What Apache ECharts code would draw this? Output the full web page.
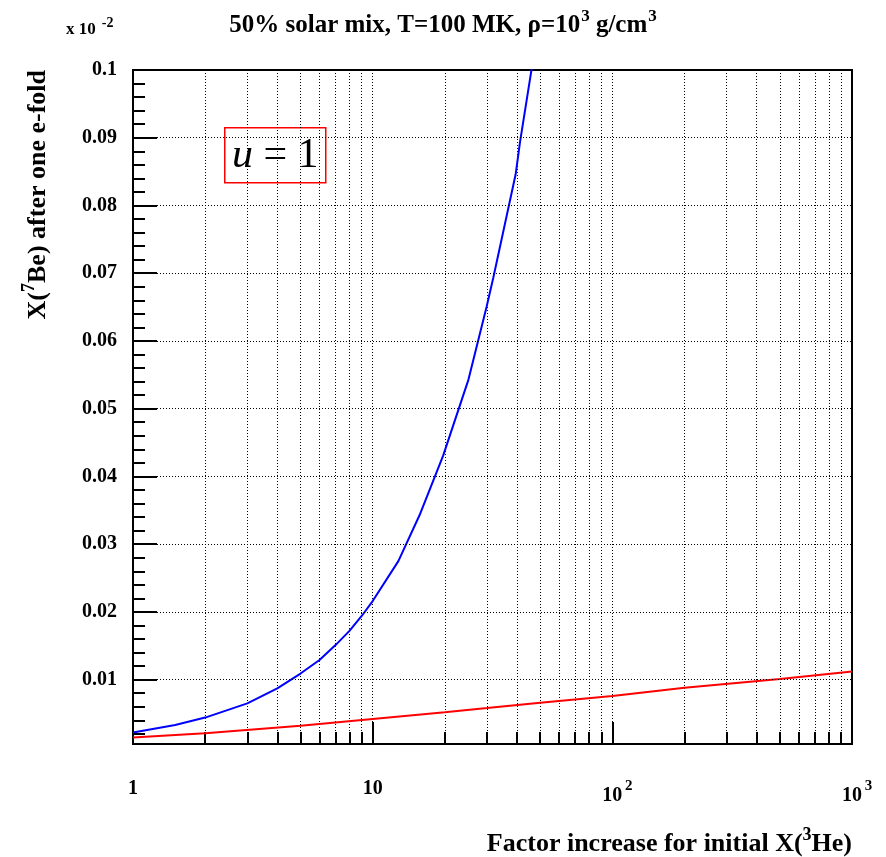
<!DOCTYPE html>
<html><head><meta charset="utf-8">
<script src="https://cdn.jsdelivr.net/npm/echarts@6/dist/echarts.min.js"></script>
<style>html,body{margin:0;padding:0;background:#fff}#c{width:886px;height:857px}</style>
</head><body><div id="c"></div>
<script>
// ---- data ----
const blueX = [1, 1.5, 2, 3, 4, 5, 6, 7, 8, 9, 10, 12.8, 15.7, 19.7, 25.1, 29.9, 31.9, 39.5, 41.2, 45.6, 50];
const blueY = [0.0022, 0.0033, 0.0044, 0.0065, 0.0087, 0.0109, 0.0129, 0.0151, 0.0172, 0.0194, 0.0216, 0.0275, 0.0343, 0.0431, 0.0543, 0.0651, 0.0694, 0.0846, 0.0894, 0.0992, 0.1081];
const redX = [1, 2, 5, 10, 20, 30, 50, 100, 200, 500, 1000];
const redY = [0.00145, 0.0021, 0.0032, 0.0042, 0.0052, 0.0058, 0.0066, 0.0076, 0.0088, 0.0101, 0.0112];
const xMajorTicks = [1, 10, 100, 1000];
const xTickLabels = ['1', '10', '{pad|}10{sup|2}', '{pad|}10{sup|3}'];
const xMinorTicks = [2, 3, 4, 5, 6, 7, 8, 9, 10, 20, 30, 40, 50, 60, 70, 80, 90, 100, 200, 300, 400, 500, 600, 700, 800, 900];
const yMajorTicks = [0.01, 0.02, 0.03, 0.04, 0.05, 0.06, 0.07, 0.08, 0.09, 0.1];
const yTickLabels = ['0.01', '0.02', '0.03', '0.04', '0.05', '0.06', '0.07', '0.08', '0.09', '0.1'];
const yMinorTicks = [0.002, 0.004, 0.006, 0.008, 0.01, 0.012, 0.014, 0.016, 0.018, 0.02, 0.022, 0.024, 0.026, 0.028, 0.03,
  0.032, 0.034, 0.036, 0.038, 0.04, 0.042, 0.044, 0.046, 0.048, 0.05, 0.052, 0.054, 0.056, 0.058, 0.06,
  0.062, 0.064, 0.066, 0.068, 0.07, 0.072, 0.074, 0.076, 0.078, 0.08, 0.082, 0.084, 0.086, 0.088, 0.09,
  0.092, 0.094, 0.096, 0.098];
const yGridLines = [0.01, 0.02, 0.03, 0.04, 0.05, 0.06, 0.07, 0.08, 0.09];
const yMin = 0.0005, yMax = 0.1;

const FONT = 'Liberation Serif';
const chart = echarts.init(document.getElementById('c'));
const dotted = { color: '#000', width: 1, type: [1, 2] };
const labelStyle = { fontFamily: FONT, fontWeight: 'bold', fontSize: 20, color: '#000' };

chart.setOption({
  animation: false,
  backgroundColor: '#fff',
  grid: { left: 133, right: 34, top: 70, bottom: 113, show: true, borderColor: '#000', borderWidth: 2, backgroundColor: 'transparent' },
  xAxis: [
    {
      type: 'log', logBase: 10, min: 1, max: 1000, position: 'bottom',
      axisLine: { show: true, lineStyle: { color: '#000', width: 2 } },
      axisTick: { show: true, inside: true, length: 22, customValues: xMajorTicks, lineStyle: { color: '#000', width: 2 } },
      axisLabel: {
        show: true, customValues: xMajorTicks, margin: 35, showMinLabel: true, showMaxLabel: true,
        formatter: v => xTickLabels[xMajorTicks.indexOf(Math.round(v))] || '',
        ...labelStyle,
        rich: {
          sup: { fontFamily: FONT, fontWeight: 'bold', fontSize: 15, color: '#000', verticalAlign: 'top', padding: [0, 0, 18, 1], width: 11 },
          pad: { width: 12 }
        }
      },
      splitLine: { show: false }
    },
    {
      type: 'log', logBase: 10, min: 1, max: 1000, position: 'bottom',
      axisLine: { show: false },
      axisTick: { show: true, inside: true, length: 12, customValues: xMinorTicks, lineStyle: { color: '#000', width: 2 } },
      axisLabel: { show: false },
      splitLine: { show: true, lineStyle: dotted }
    }
  ],
  yAxis: [
    {
      type: 'value', min: yMin, max: yMax, position: 'left',
      axisLine: { show: true, lineStyle: { color: '#000', width: 2 } },
      axisTick: { show: true, inside: true, length: 24, customValues: yMajorTicks, lineStyle: { color: '#000', width: 2 } },
      axisLabel: {
        show: true, customValues: yMajorTicks, margin: 16, showMinLabel: true, showMaxLabel: true,
        formatter: v => { let i = yMajorTicks.findIndex(t => Math.abs(t - v) < 1e-9); return i >= 0 ? yTickLabels[i] : ''; },
        ...labelStyle
      },
      splitLine: { show: false }
    },
    {
      type: 'value', min: yMin, max: yMax, position: 'left', offset: 0,
      axisLine: { show: false },
      axisTick: { show: true, inside: true, length: 12, customValues: yMinorTicks, lineStyle: { color: '#000', width: 2 } },
      axisLabel: { show: false },
      splitLine: { show: false }
    }
  ],
  series: [
    {
      type: 'line', name: 'grid', xAxisIndex: 0, yAxisIndex: 0, data: [], silent: true,
      markLine: {
        silent: true, symbol: 'none', label: { show: false },
        lineStyle: dotted,
        data: yGridLines.map(v => ({ yAxis: v }))
      }
    },
    {
      type: 'line', name: 'blue', xAxisIndex: 0, yAxisIndex: 0, showSymbol: false, clip: true,
      lineStyle: { color: '#0000ff', width: 2 }, itemStyle: { color: '#0000ff' },
      data: blueX.map((x, i) => [x, blueY[i]])
    },
    {
      type: 'line', name: 'red', xAxisIndex: 0, yAxisIndex: 0, showSymbol: false, clip: true,
      lineStyle: { color: '#ff0000', width: 2 }, itemStyle: { color: '#ff0000' },
      data: redX.map((x, i) => [x, redY[i]])
    }
  ],
  graphic: [
    {
      type: 'text', left: 'center', top: 8,
      style: {
        text: '50% solar mix, T=100 MK, ρ=10{sup|3} g/cm{sup|3}',
        fontFamily: FONT, fontWeight: 'bold', fontSize: 25, fill: '#000',
        rich: { sup: { fontFamily: FONT, fontWeight: 'bold', fontSize: 17, fill: '#000', verticalAlign: 'top', padding: [0, 0, 18, 1] } }
      }
    },
    {
      type: 'text', left: 66, top: 16,
      style: {
        text: 'x 10{sup|-2}', fontFamily: FONT, fontWeight: 'bold', fontSize: 17, fill: '#000',
        rich: { sup: { fontFamily: FONT, fontWeight: 'bold', fontSize: 14, fill: '#000', verticalAlign: 'top', padding: [0, 0, 14, 6] } }
      }
    },
    {
      type: 'text', right: 34, top: 826,
      style: {
        text: 'Factor increase for initial X({sup|3}He)', fontFamily: FONT, fontWeight: 'bold', fontSize: 26, fill: '#000',
        rich: { sup: { fontFamily: FONT, fontWeight: 'bold', fontSize: 18, fill: '#000', verticalAlign: 'top', padding: [0, 0, 18, 0] } }
      }
    },
    {
      type: 'text', x: 38, y: 70, rotation: Math.PI / 2,
      style: {
        text: 'X({sup|7}Be) after one e-fold', fontFamily: FONT, fontWeight: 'bold', fontSize: 26, fill: '#000',
        align: 'right', verticalAlign: 'middle',
        rich: { sup: { fontFamily: FONT, fontWeight: 'bold', fontSize: 18, fill: '#000', verticalAlign: 'top', padding: [0, 0, 18, 0] } }
      }
    },
    {
      type: 'group', left: 224, top: 127,
      children: [
        { type: 'rect', shape: { x: 0, y: 0, width: 101, height: 55 }, style: { fill: '#fff', stroke: '#ff0000', lineWidth: 1.5 } },
        {
          type: 'text', x: 50.5, y: 28,
          style: {
            text: '{i|u} = 1', align: 'center', verticalAlign: 'middle',
            fontFamily: FONT, fontSize: 42, fill: '#000',
            rich: { i: { fontFamily: FONT, fontStyle: 'italic', fontSize: 42, fill: '#000' } }
          }
        }
      ]
    }
  ]
});
</script>
</body></html>
